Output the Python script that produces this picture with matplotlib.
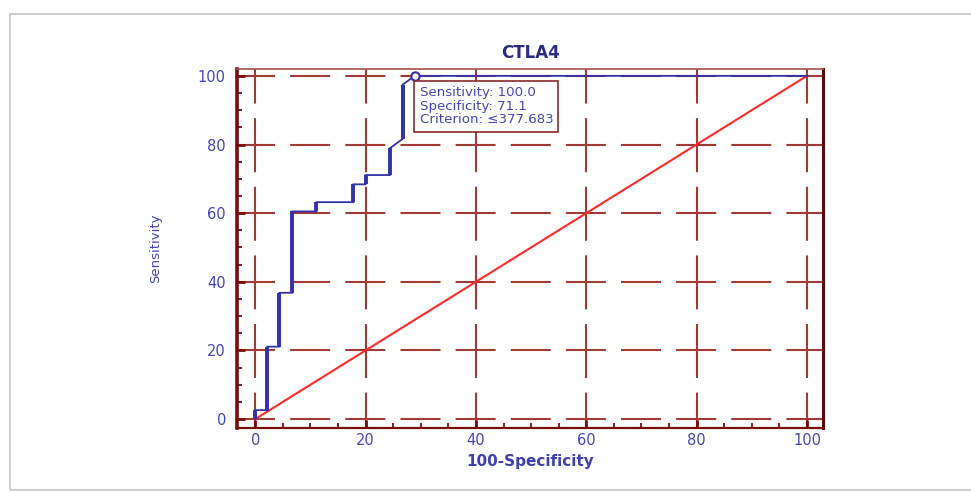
import matplotlib
matplotlib.use("Agg")
import matplotlib.pyplot as plt
from matplotlib.patches import Rectangle

plt.rcParams["font.family"] = ["DejaVu Sans"]
plt.rcParams["lines.scale_dashes"] = False

# ROC vertices (100-Specificity, Sensitivity)
FPR = [0, 0, 2.2, 2.2, 4.4, 4.4, 6.7, 6.7, 11.1, 11.1, 17.8, 17.8, 20.0, 20.0,
       24.4, 24.4, 26.7, 26.7, 28.9, 100]
SENS = [0, 2.6, 2.6, 21.1, 21.1, 36.8, 36.8, 60.5, 60.5, 63.2, 63.2, 68.4, 68.4, 71.1,
        71.1, 78.9, 81.6, 97.4, 100, 100]
REF = [0, 100]
# optimal cut-off
PT_SENS, PT_SPEC, PT_CRIT = 100.0, 71.1, 377.683
TICKS = [0, 20, 40, 60, 80, 100]

MAROON = "#7a0c0c"
GRID = "#a33a36"
BLUE_TXT = "#4646b8"
BLUE = "#3232aa"

fig = plt.figure(figsize=(9.71, 4.93), dpi=100)
# outer screenshot frame
fig.patches.append(Rectangle((10/971, 3/493), 1.2, 1 - 17/493, transform=fig.transFigure,
                             fill=False, ec="#cfcfcf", lw=1.5, zorder=0))
ax = fig.add_axes([237/971, 1 - 428/493, 586/971, 359/493])
ax.set_xlim(-3.3, 102.9)
ax.set_ylim(-2.6, 102.0)

# dashed grid, dashes centred on the crossings
ax.set_xticks(TICKS); ax.set_yticks(TICKS)
ax.set_xticks(range(0, 101, 5), minor=True)
ax.set_yticks(range(0, 101, 5), minor=True)
ax.grid(axis="y", color=GRID, lw=1.5, linestyle=(1.4, (28.8, 10.9)), zorder=1)
ax.grid(axis="x", color=GRID, lw=1.5, linestyle=(13.4, (38.9, 10.5)), zorder=1)
ax.set_axisbelow(True)

ax.plot(REF, REF, color="#ff2a2a", lw=1.5, zorder=3)
ax.plot(FPR, SENS, color=BLUE, lw=1.3, zorder=4, solid_joinstyle="miter")
# vertical steps look heavier in the original
for i in range(len(FPR) - 1):
    if FPR[i] == FPR[i + 1]:
        ax.plot(FPR[i:i+2], SENS[i:i+2], color=BLUE, lw=2.8, zorder=4, solid_capstyle="butt")
px = 100 - PT_SPEC
ax.plot([px], [PT_SENS], "o", ms=6, mfc="white", mec=BLUE, mew=1.5, zorder=5)
ax.annotate(f"Sensitivity: {PT_SENS:.1f}\nSpecificity: {PT_SPEC:.1f}\nCriterion: \u2264{PT_CRIT}",
            xy=(px, PT_SENS), xytext=(3.5, -7.5), textcoords="offset points",
            ha="left", va="top", fontsize=9.6, color=BLUE_TXT, linespacing=1.05, zorder=6,
            bbox=dict(boxstyle="square,pad=0.4", fc="white", ec="#8a2a2a", lw=1.2))

for side, lw, c in [("left", 2.6, MAROON), ("bottom", 1.6, MAROON),
                    ("right", 2.2, "#5a0a0a"), ("top", 1.2, "#a85050")]:
    ax.spines[side].set_linewidth(lw)
    ax.spines[side].set_color(c)

ax.tick_params(which="major", direction="in", length=6, width=2, color=MAROON,
               labelcolor=BLUE_TXT, labelsize=10.5)
ax.tick_params(axis="y", which="major", pad=8)
ax.tick_params(axis="x", which="major", pad=3.5)
ax.tick_params(which="minor", direction="in", length=3.5, width=1.3, color=MAROON)

ax.set_title("CTLA4", fontsize=12, fontweight="bold", color="#2c2c80", pad=8)
ax.set_xlabel("100-Specificity", fontsize=11, fontweight="bold", color="#4040b0")
ax.set_ylabel("Sensitivity", fontsize=9.5, color="#4545b5")
ax.xaxis.set_label_coords(0.5, -0.072)
ax.yaxis.set_label_coords(-0.128, 0.5)

fig.savefig("out.png", dpi=100)
